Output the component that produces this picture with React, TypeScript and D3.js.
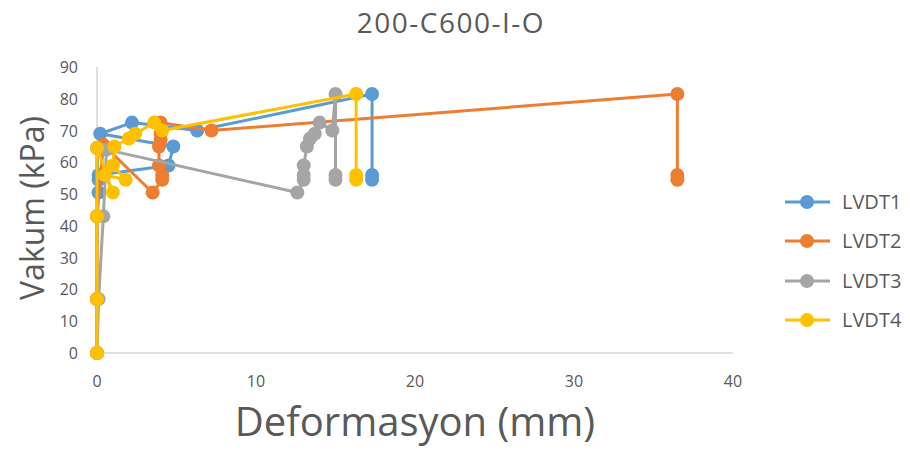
import React from "react";
import * as d3 from "d3";

const title = "200-C600-I-O";
const xTitle = "Deformasyon (mm)";
const yTitle = "Vakum (kPa)";
const xTicks = [0, 10, 20, 30, 40];
const yTicks = [0, 10, 20, 30, 40, 50, 60, 70, 80, 90];
const seriesNames = ["LVDT1", "LVDT2", "LVDT3", "LVDT4"];
const seriesColors = ["#5B9BD5", "#ED7D31", "#A5A5A5", "#FFC000"];

const lvdt1X = [0, 0, 0, 0, 0.1, 0.1, 0.1, 4.5, 4.8, 0.2, 2.2, 6.3, 17.3, 17.3, 17.3];
const lvdt1Y = [0, 17, 43, 64.5, 50.5, 54.5, 56, 59, 65, 69, 72.5, 70, 81.5, 56, 54.5];
const lvdt2X = [0, 0, 0, 0.4, 3.5, 4.1, 4.1, 3.9, 3.9, 4.0, 4.0, 4.0, 7.2, 36.5, 36.5, 36.5];
const lvdt2Y = [0, 17, 43, 65.5, 50.5, 54.5, 56, 59, 65, 67, 69, 72.5, 70, 81.5, 56, 54.5];
const lvdt3X = [0, 0.1, 0.4, 0.6, 12.6, 13.0, 13.0, 13.0, 13.2, 13.4, 13.7, 14.0, 14.8, 15.0, 15.0, 15.0];
const lvdt3Y = [0, 17, 43, 64, 50.5, 54.5, 56, 59, 65, 67.5, 69, 72.5, 70, 81.5, 56, 54.5];
const lvdt4X = [0, 0, 0, 0, 1.0, 0.5, 1.8, 1.0, 1.1, 2.0, 2.4, 3.6, 4.1, 16.3, 16.3, 16.3];
const lvdt4Y = [0, 17, 43, 64.5, 50.5, 56, 54.5, 59, 65, 67.5, 69, 72.5, 70, 81.5, 56, 54.5];

const seriesX = [lvdt1X, lvdt2X, lvdt3X, lvdt4X];
const seriesY = [lvdt1Y, lvdt2Y, lvdt3Y, lvdt4Y];

export default function App() {
  const W = 910, H = 450;
  const left = 97, right = 733, top = 67, bottom = 353;
  const x = d3.scaleLinear().domain([0, 40]).range([left, right]);
  const y = d3.scaleLinear().domain([0, 90]).range([bottom, top]);
  const line = d3.line<[number, number]>().x(d => x(d[0])).y(d => y(d[1]));
  const font = "'Open Sans', 'Liberation Sans', sans-serif";
  const textColor = "#595959";
  const legendY = [202, 241, 281, 320];

  return (
    <svg width={W} height={H} style={{ position: "absolute", left: 0, top: 0 }} fontFamily={font}>
      <rect width={W} height={H} fill="#fff" />
      <text x={451} y={33} textAnchor="middle" fontSize={28} letterSpacing={1.5} fill={textColor}>{title}</text>
      <line x1={left} x2={left} y1={top} y2={bottom} stroke="#BFBFBF" strokeWidth={1} />
      <line x1={left} x2={right} y1={bottom} y2={bottom} stroke="#BFBFBF" strokeWidth={1} />
      {yTicks.map(t => (
        <text key={"y" + t} x={78} y={y(t) + 6} textAnchor="end" fontSize={16} fill={textColor}>{t}</text>
      ))}
      {xTicks.map(t => (
        <text key={"x" + t} x={x(t)} y={387} textAnchor="middle" fontSize={16} fill={textColor}>{t}</text>
      ))}
      <text x={415} y={436} textAnchor="middle" fontSize={40} fill={textColor}>{xTitle}</text>
      <text transform={`translate(44, 208) rotate(-90)`} textAnchor="middle" fontSize={32} fill={textColor}>{yTitle}</text>
      {seriesX.map((xs, i) => {
        const pts: [number, number][] = xs.map((v, j) => [v, seriesY[i][j]]);
        return (
          <g key={"s" + i}>
            <path d={line(pts) || ""} fill="none" stroke={seriesColors[i]} strokeWidth={3} strokeLinejoin="round" />
            {pts.map((p, j) => (
              <circle key={j} cx={x(p[0])} cy={y(p[1])} r={7} fill={seriesColors[i]} />
            ))}
          </g>
        );
      })}
      {seriesNames.map((n, i) => (
        <g key={"l" + i}>
          <line x1={785} x2={830} y1={legendY[i]} y2={legendY[i]} stroke={seriesColors[i]} strokeWidth={3} />
          <circle cx={807} cy={legendY[i]} r={7} fill={seriesColors[i]} />
          <text x={842} y={legendY[i] + 7} fontSize={20} fill={textColor}>{n}</text>
        </g>
      ))}
    </svg>
  );
}
